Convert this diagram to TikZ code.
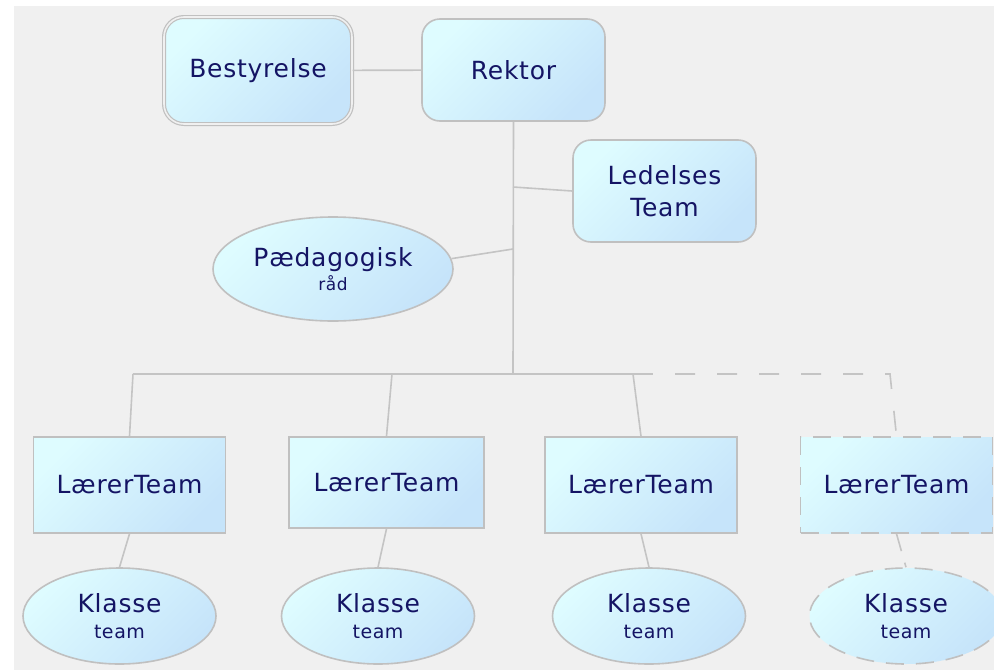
\documentclass[tikz,border=0pt]{standalone}
\usepackage{fontspec}
\setmainfont[LetterSpace=3]{DejaVu Sans}
\usetikzlibrary{shapes.geometric}
\definecolor{bggray}{RGB}{240,240,240}
\definecolor{edgegray}{RGB}{192,192,192}
\definecolor{linegray}{RGB}{196,196,196}
\definecolor{navytext}{RGB}{20,20,100}
\definecolor{hiblue}{RGB}{222,252,255}
\definecolor{loblue}{RGB}{198,228,250}
\begin{document}
\begin{tikzpicture}[x=1pt,y=-1pt,
  box/.style={draw=edgegray,line width=1.6pt,top color=hiblue,bottom color=loblue,
    shading angle=45,text=navytext,font=\fontsize{25}{32}\selectfont,align=center,inner sep=0pt},
  rbox/.style={box,rounded corners=18pt,minimum width=183pt,minimum height=102pt},
  lbox/.style={box,minimum width=192pt,minimum height=96pt},
  oval/.style={box,ellipse,font=\fontsize{25}{26}\selectfont,minimum width=193pt,minimum height=96pt},
  maybe/.style={dash pattern=on 18pt off 12pt},
  wire/.style={draw=linegray,line width=1.6pt}]
  \fill[bggray] (14,6) rectangle (994,670);
  \useasboundingbox (0,0) rectangle (994,670);

  \node[rbox,double=bggray,double distance=1.6pt,line width=1.2pt,
    minimum width=188pt,minimum height=107pt,rounded corners=20pt] (best) at (258,70.5) {Bestyrelse};
  \node[rbox] (rektor) at (513.5,70) {Rektor};
  \node[rbox] (led) at (664.5,191) {Ledelses\\Team};
  \node[oval,minimum width=240pt,minimum height=104pt] (paed) at (333,269)
    {Pædagogisk\\[-2pt]{\fontsize{17}{17}\selectfont råd}};

  \node[lbox] (lt1) at (129.5,485) {LærerTeam};
  \node[lbox,minimum width=195pt,minimum height=91pt] (lt2) at (386.5,482.5) {LærerTeam};
  \node[lbox] (lt3) at (641,485) {LærerTeam};
  \node[lbox,maybe] (lt4) at (896.5,485) {LærerTeam};

  \node[oval] (kt1) at (119.5,616) {Klasse\\{\fontsize{19}{19}\selectfont team}};
  \node[oval] (kt2) at (378,616) {Klasse\\{\fontsize{19}{19}\selectfont team}};
  \node[oval] (kt3) at (649,616) {Klasse\\{\fontsize{19}{19}\selectfont team}};
  \node[oval,maybe] (kt4) at (906,616) {Klasse\\{\fontsize{19}{19}\selectfont team}};

  \coordinate (forkled) at (513,187);
  \coordinate (forkpaed) at (513,249);
  \coordinate (trunkend) at (513,374);
  \coordinate (bus1) at (133,374);
  \coordinate (bus2) at (392,374);
  \coordinate (bus3) at (633,374);
  \coordinate (busdash) at (653,374);
  \coordinate (bus4) at (890,374);

  \draw[wire] (best) -- (rektor);
  \draw[wire] (rektor.south) -- (trunkend);
  \draw[wire] (forkled) -- (led.west);
  \draw[wire] (forkpaed) -- (paed.5);
  \draw[wire] (bus1) -- (busdash);
  \draw[wire,dash pattern=on 20pt off 22pt,dash phase=20pt] (busdash) -- (bus4) -- (lt4.north);

  \draw[wire] (bus1) -- (lt1.north);
  \draw[wire] (bus2) -- (lt2.north);
  \draw[wire] (bus3) -- (lt3.north);

  \draw[wire] (lt1.south) -- (kt1.north);
  \draw[wire] (lt2.south) -- (kt2.north);
  \draw[wire] (lt3.south) -- (kt3.north);
  \draw[wire,maybe] (lt4.south) -- (kt4.north);
\end{tikzpicture}
\end{document}
